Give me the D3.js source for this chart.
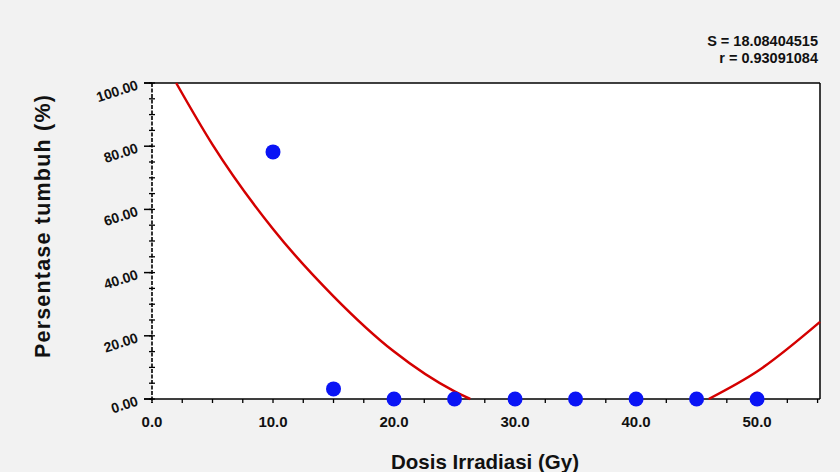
<!DOCTYPE html>
<html>
<head>
<meta charset="utf-8">
<script src="https://cdn.jsdelivr.net/npm/d3@7"></script>
<style>
  body { margin: 0; background: #f2f2f2; }
  svg { display: block; font-family: "Liberation Sans", Arial, sans-serif; }
</style>
</head>
<body>
<svg id="chart" width="840" height="472"></svg>
<script>
//-------------------------------------------------
// Data
//-------------------------------------------------
var doses = [10, 15, 20, 25, 30, 35, 40, 45, 50];
var growth = [78.2, 3.2, 0, 0, 0, 0, 0, 0, 0];

// fitted curve (two visible pieces)
var fitLeftX = [2, 5, 10, 15, 20, 25, 26.3];
var fitLeftY = [100, 80.5, 53.8, 32.5, 15.0, 2.4, 0];
var fitRightX = [46, 50, 55.2];
var fitRightY = [0, 8.7, 24.4];

var xTicks = [0, 10, 20, 30, 40, 50];
var yTicks = [0, 20, 40, 60, 80, 100];
var statLines = ["S = 18.08404515", "r = 0.93091084"];
//-------------------------------------------------

var svg = d3.select("#chart");
var margin = {top: 83, right: 20, bottom: 73, left: 152};
var width = 840 - margin.left - margin.right;
var height = 472 - margin.top - margin.bottom;

var x = d3.scaleLinear().domain([0, 55.2]).range([0, width]);
var y = d3.scaleLinear().domain([0, 100]).range([height, 0]);

var g = svg.append("g")
  .attr("transform", "translate(" + margin.left + "," + margin.top + ")");

// plot background
g.append("rect")
  .attr("width", width)
  .attr("height", height)
  .attr("fill", "#ffffff");

// top and right frame
g.append("line").attr("x1", -8).attr("x2", width).attr("y1", 0).attr("y2", 0)
  .attr("stroke", "#000").attr("stroke-width", 1.5);
g.append("line").attr("x1", width).attr("x2", width).attr("y1", 0).attr("y2", height)
  .attr("stroke", "#000").attr("stroke-width", 1.5);

// minor ticks x every 2.5
var xMinor = d3.range(0, 55.1, 2.5);
g.selectAll(".xminor").data(xMinor).enter().append("line")
  .attr("x1", function(d){ return x(d); })
  .attr("x2", function(d){ return x(d); })
  .attr("y1", height).attr("y2", height + 4)
  .attr("stroke", "#000").attr("stroke-width", 1.3);

// minor ticks y every 5
var yMinor = d3.range(0, 100.1, 5);
g.selectAll(".yminor").data(yMinor).enter().append("line")
  .attr("x1", -3).attr("x2", 3)
  .attr("y1", function(d){ return y(d); })
  .attr("y2", function(d){ return y(d); })
  .attr("stroke", "#000").attr("stroke-width", 1.3);

// major y ticks
g.selectAll(".ymajor").data(yTicks).enter().append("line")
  .attr("x1", -8).attr("x2", 0)
  .attr("y1", function(d){ return y(d); })
  .attr("y2", function(d){ return y(d); })
  .attr("stroke", "#000").attr("stroke-width", 1.5);

// x axis line
g.append("line").attr("x1", -8).attr("x2", width).attr("y1", height).attr("y2", height)
  .attr("stroke", "#000").attr("stroke-width", 1.5);

// y axis line (dashed look)
g.append("line").attr("x1", 0).attr("x2", 0).attr("y1", 0).attr("y2", height + 4)
  .attr("stroke", "#000").attr("stroke-width", 1.6)
  .attr("stroke-dasharray", "4,1.5");

// x tick labels
g.selectAll(".xlab").data(xTicks).enter().append("text")
  .attr("x", function(d){ return x(d); })
  .attr("y", height + 28)
  .attr("text-anchor", "middle")
  .attr("font-size", "15px")
  .attr("font-weight", "bold")
  .attr("fill", "#111")
  .text(function(d){ return d.toFixed(1); });

// y tick labels (slightly rotated)
g.selectAll(".ylab").data(yTicks).enter().append("text")
  .attr("transform", function(d){ return "translate(-13," + (y(d) + 6) + ") rotate(-18)"; })
  .attr("text-anchor", "end")
  .attr("font-size", "14px")
  .attr("font-weight", "bold")
  .attr("fill", "#111")
  .text(function(d){ return d.toFixed(2); });

// fitted curve pieces
var line = d3.line()
  .x(function(d){ return x(d[0]); })
  .y(function(d){ return y(d[1]); })
  .curve(d3.curveMonotoneX);

[[fitLeftX, fitLeftY], [fitRightX, fitRightY]].forEach(function(p){
  g.append("path")
    .datum(d3.zip(p[0], p[1]))
    .attr("d", line)
    .attr("fill", "none")
    .attr("stroke", "#d40000")
    .attr("stroke-width", 2.5);
});

// data points
g.selectAll(".dots").data(d3.zip(doses, growth)).enter().append("circle")
  .attr("class", "dots")
  .attr("cx", function(d){ return x(d[0]); })
  .attr("cy", function(d){ return y(d[1]); })
  .attr("r", 7.5)
  .attr("fill", "#0a14f5");

// axis titles
svg.append("text")
  .attr("x", 485)
  .attr("y", 469)
  .attr("text-anchor", "middle")
  .attr("font-size", "20.5px")
  .attr("font-weight", "bold")
  .attr("fill", "#111")
  .text("Dosis Irradiasi (Gy)");

svg.append("text")
  .attr("transform", "translate(50,226) rotate(-90)")
  .attr("text-anchor", "middle")
  .attr("font-size", "21.5px")
  .attr("font-weight", "bold")
  .attr("letter-spacing", "1.2px")
  .attr("fill", "#111")
  .text("Persentase tumbuh (%)");

// statistics
svg.selectAll(".stat").data(statLines).enter().append("text")
  .attr("x", 818)
  .attr("y", function(d, i){ return 46 + i * 17; })
  .attr("text-anchor", "end")
  .attr("font-size", "14.5px")
  .attr("font-weight", "bold")
  .attr("fill", "#111")
  .text(function(d){ return d; });
</script>
</body>
</html>
